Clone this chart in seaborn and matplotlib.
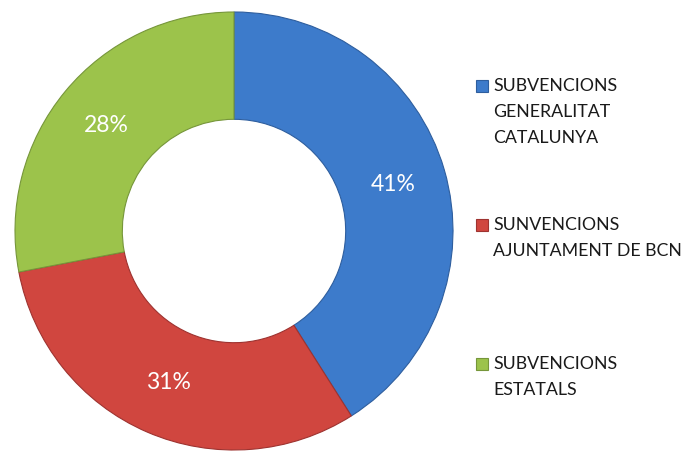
import matplotlib
matplotlib.use("Agg")
import matplotlib.pyplot as plt
import seaborn as sns
from matplotlib.patches import Rectangle

sns.set_theme(style="white")
plt.rcParams['font.family'] = ['Lato', 'DejaVu Sans']

categories = ["SUBVENCIONS\nGENERALITAT\nCATALUNYA",
              "SUNVENCIONS\nAJUNTAMENT DE BCN",
              "SUBVENCIONS\nESTATALS"]
values = [41, 31, 28]
colors = ["#3D7BCB", "#D0463F", "#9CC34B"]
edge_colors = ["#2E5E9E", "#9E3330", "#76963A"]

W, H = 686, 454
fig = plt.figure(figsize=(W / 100, H / 100), dpi=100)
cx, cy, R = 234, 231, 219
ax = fig.add_axes([(cx - R) / W, (H - cy - R) / H, 2 * R / W, 2 * R / H])

wedges, texts, autotexts = ax.pie(
    values, colors=colors, startangle=90, counterclock=False,
    radius=1.0, autopct=lambda p: f"{p:.0f}%", pctdistance=0.755,
    wedgeprops=dict(width=0.49, linewidth=0.8),
    textprops=dict(color="white", fontsize=16.5))
for w, ec in zip(wedges, edge_colors):
    w.set_edgecolor(ec)
ax.set_xlim(-1, 1)
ax.set_ylim(-1, 1)
ax.set_aspect("equal")
ax.axis("off")

# legend drawn manually
marker_x = 476
text_x = 493
first_line_y = [86, 225, 364]
line_h = 26
for lab, col, ec, y in zip(categories, colors, edge_colors, first_line_y):
    fig.patches.append(Rectangle((marker_x / W, (H - y - 6) / H), 12 / W, 12 / H,
                                 transform=fig.transFigure, facecolor=col,
                                 edgecolor=ec, linewidth=0.8))
    for i, line in enumerate(lab.split("\n")):
        fig.text(text_x / W, (H - y - i * line_h) / H, line, ha="left",
                 va="center", fontsize=12.8, color="#1a1a1a")

fig.savefig("out.png", dpi=100)
